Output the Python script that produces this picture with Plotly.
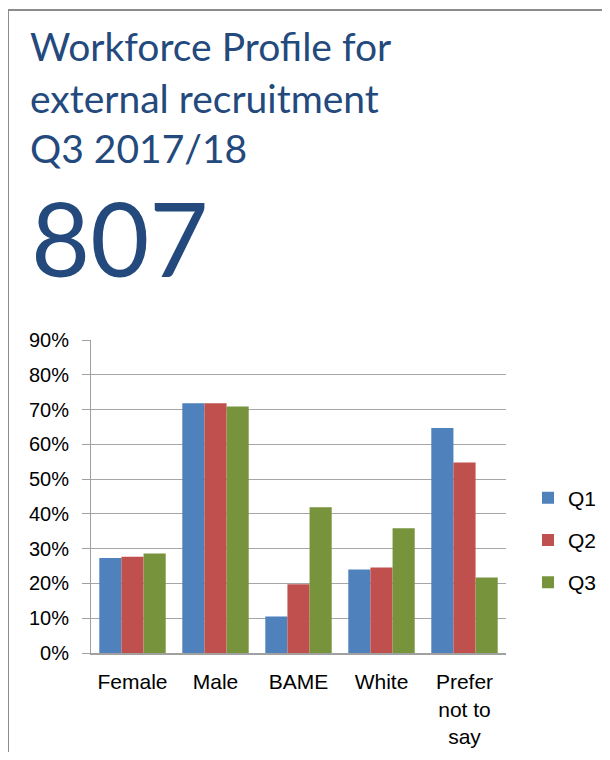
import plotly.graph_objects as go

categories = ["Female", "Male", "BAME", "White", "Prefer<br>not to<br>say"]
q1 = [27.3, 71.8, 10.5, 24.0, 64.7]
q2 = [27.7, 71.8, 19.8, 24.6, 54.8]
q3 = [28.6, 70.9, 41.9, 35.9, 21.7]
series = [("Q1", q1, "#4F81BD"), ("Q2", q2, "#C0504D"), ("Q3", q3, "#77933C")]

# page body has an 8px margin, so the figure is 16px smaller than the window
W, H = 594, 744
OFF = 8
title_color = "#23497D"


def px(x):
    return (x - OFF) / W


def py(y):
    return 1 - (y - OFF) / H


fig = go.Figure()
for name, vals, col in series:
    fig.add_trace(go.Bar(x=categories, y=vals, name=name, marker_color=col,
                         marker_line_width=0, legendgroup=name))

fig.update_layout(
    width=W, height=H,
    margin=dict(l=0, r=0, t=0, b=0),
    paper_bgcolor="white", plot_bgcolor="white",
    barmode="group", bargap=0.2, bargroupgap=0,
    font=dict(family="Liberation Sans, Arial, sans-serif", color="black"),
    showlegend=True,
    # anchored on the right edge so the legend never pushes the margins
    legend=dict(x=1, y=py(540), xanchor="right", yanchor="middle",
                font=dict(size=21), tracegroupgap=12, bgcolor="rgba(0,0,0,0)"),
)
fig.update_xaxes(domain=[px(91), px(506)], showline=True, linecolor="#A0A0A0",
                 linewidth=2, ticks="", tickfont=dict(size=21), showgrid=False,
                 automargin=False, ticklabelstandoff=9)
fig.update_yaxes(domain=[py(653), py(340)], range=[0, 90], dtick=10,
                 ticksuffix="%", showline=True, linecolor="#A0A0A0", linewidth=1,
                 ticks="outside", ticklen=8, tickcolor="#A0A0A0",
                 showgrid=True, gridcolor="#A6A6A6", gridwidth=1,
                 tickfont=dict(size=20), zeroline=False, automargin=False,
                 ticklabelstandoff=9)

# outer frame
fig.add_shape(type="rect", xref="paper", yref="paper",
              x0=px(8), x1=1.05, y0=-0.05, y1=py(10),
              line=dict(color="#8C8C8C", width=2))

lines = [("Workforce Profile for", 46), ("external recruitment", 98), ("Q3 2017/18", 148)]
for txt, yc in lines:
    fig.add_annotation(text=txt, xref="paper", yref="paper", x=px(28), y=py(yc),
                       xanchor="left", yanchor="middle", showarrow=False,
                       font=dict(family="Lato", size=39, color=title_color))
fig.add_annotation(text="807", xref="paper", yref="paper", x=px(29), y=py(237),
                   xanchor="left", yanchor="middle", showarrow=False,
                   font=dict(family="Lato", size=102, color=title_color))

fig.write_html("out.html")
